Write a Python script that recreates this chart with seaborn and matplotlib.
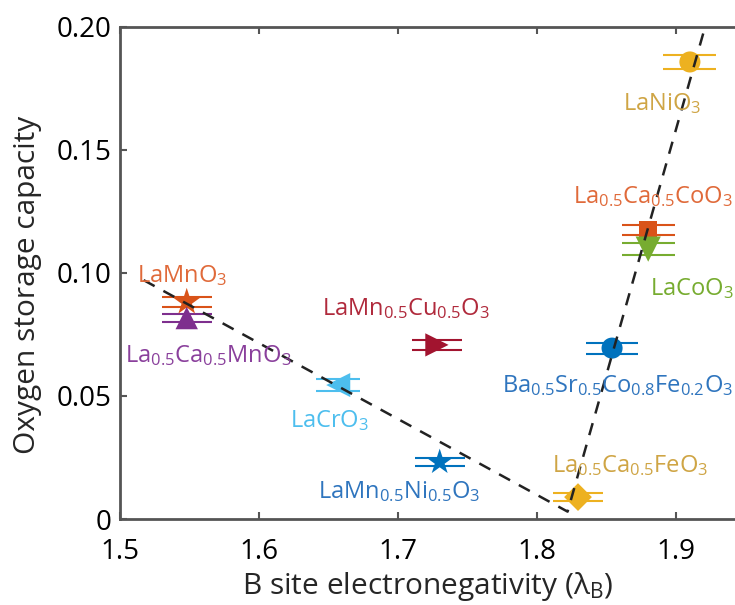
import matplotlib
matplotlib.use("Agg")
import matplotlib.pyplot as plt
import matplotlib.patheffects as pe
import pandas as pd
import seaborn as sns

# data
names = ["LaMnO3", "La0.5Ca0.5MnO3", "LaCrO3", "LaMn0.5Cu0.5O3", "LaMn0.5Ni0.5O3",
         "La0.5Ca0.5FeO3", "Ba0.5Sr0.5Co0.8Fe0.2O3", "La0.5Ca0.5CoO3", "LaCoO3", "LaNiO3"]
labels = [r"LaMnO$_3$", r"La$_{0.5}$Ca$_{0.5}$MnO$_3$", r"LaCrO$_3$",
          r"LaMn$_{0.5}$Cu$_{0.5}$O$_3$", r"LaMn$_{0.5}$Ni$_{0.5}$O$_3$",
          r"La$_{0.5}$Ca$_{0.5}$FeO$_3$", r"Ba$_{0.5}$Sr$_{0.5}$Co$_{0.8}$Fe$_{0.2}$O$_3$",
          r"La$_{0.5}$Ca$_{0.5}$CoO$_3$", r"LaCoO$_3$", r"LaNiO$_3$"]
electroneg = [1.548, 1.548, 1.657, 1.728, 1.730, 1.8295, 1.854, 1.880, 1.880, 1.910]
osc = [0.0881, 0.0816, 0.0544, 0.0707, 0.0231, 0.0089, 0.0694, 0.1174, 0.1096, 0.1856]
xerr = [0.018, 0.018, 0.016, 0.018, 0.018, 0.018, 0.019, 0.019, 0.019, 0.019]

# dashed guide line (V shape)
guide_x = [1.517, 1.822, 1.921]
guide_y = [0.097, 0.003, 0.200]

xticks = [1.5, 1.6, 1.7, 1.8, 1.9]
xticklabels = ["1.5", "1.6", "1.7", "1.8", "1.9"]
yticks = [0, 0.05, 0.10, 0.15, 0.20]
yticklabels = ["0", "0.05", "0.10", "0.15", "0.20"]

# styles
colors = {"LaMnO3": "#D95319", "La0.5Ca0.5MnO3": "#7E2F8E", "LaCrO3": "#4DBEEE",
          "LaMn0.5Cu0.5O3": "#A2142F", "LaMn0.5Ni0.5O3": "#0072BD",
          "La0.5Ca0.5FeO3": "#EDB120", "Ba0.5Sr0.5Co0.8Fe0.2O3": "#0072BD",
          "La0.5Ca0.5CoO3": "#D95319", "LaCoO3": "#77AC30", "LaNiO3": "#EDB120"}
text_colors = dict(colors)
text_colors.update({"LaMnO3": "#E06A3A", "La0.5Ca0.5CoO3": "#E06A3A",
                    "La0.5Ca0.5FeO3": "#CFA545", "LaNiO3": "#CFA545",
                    "LaMn0.5Cu0.5O3": "#B02A3C", "LaMn0.5Ni0.5O3": "#2F75BE",
                    "Ba0.5Sr0.5Co0.8Fe0.2O3": "#2F75BE", "La0.5Ca0.5MnO3": "#8A409C"})
markers = {"LaMnO3": "*", "La0.5Ca0.5MnO3": "^", "LaCrO3": "<", "LaMn0.5Cu0.5O3": ">",
           "LaMn0.5Ni0.5O3": "*", "La0.5Ca0.5FeO3": "D", "Ba0.5Sr0.5Co0.8Fe0.2O3": "o",
           "La0.5Ca0.5CoO3": "s", "LaCoO3": "v", "LaNiO3": "o"}
msizes = {"LaMnO3": 420, "La0.5Ca0.5MnO3": 260, "LaCrO3": 300, "LaMn0.5Cu0.5O3": 280,
          "LaMn0.5Ni0.5O3": 380, "La0.5Ca0.5FeO3": 200, "Ba0.5Sr0.5Co0.8Fe0.2O3": 230,
          "La0.5Ca0.5CoO3": 170, "LaCoO3": 330, "LaNiO3": 230}
# half gap (points) between the two lines of each error bar
bar_gap = {"LaMnO3": 3.5, "La0.5Ca0.5MnO3": 3.0, "LaCrO3": 4.5, "LaMn0.5Cu0.5O3": 3.5,
           "LaMn0.5Ni0.5O3": 3.0, "La0.5Ca0.5FeO3": 3.0, "Ba0.5Sr0.5Co0.8Fe0.2O3": 4.0,
           "La0.5Ca0.5CoO3": 3.5, "LaCoO3": 4.5, "LaNiO3": 5.0}
# label offsets in pixels from the marker
offsets = {"LaMnO3": (-50, 20), "La0.5Ca0.5MnO3": (-62, -44), "LaCrO3": (-48, -42),
           "LaMn0.5Cu0.5O3": (-115, 30), "LaMn0.5Ni0.5O3": (-122, -36),
           "La0.5Ca0.5FeO3": (-26, 25), "Ba0.5Sr0.5Co0.8Fe0.2O3": (-110, -44),
           "La0.5Ca0.5CoO3": (-75, 27), "LaCoO3": (2, -46), "LaNiO3": (-67, -48)}

df = pd.DataFrame({"name": names, "label": labels, "x": electroneg, "y": osc, "xerr": xerr})

sns.set_style("ticks")
plt.rcParams["font.family"] = ["Open Sans", "DejaVu Sans"]
plt.rcParams["mathtext.fontset"] = "custom"
plt.rcParams["mathtext.rm"] = "Open Sans"
plt.rcParams["mathtext.it"] = "Open Sans:italic"
plt.rcParams["mathtext.bf"] = "Open Sans:bold"

fig = plt.figure(figsize=(7.35, 6.05), dpi=100)
ax = fig.add_axes([120 / 735, 86 / 605, 695 / 735, 492.5 / 605])

# error bars drawn as two parallel thin lines
for _, r in df.iterrows():
    c = colors[r["name"]]
    g = bar_gap[r["name"]]
    ax.plot([r["x"] - r["xerr"], r["x"] + r["xerr"]], [r["y"], r["y"]], color=c, lw=1.5,
            solid_capstyle="butt", zorder=2,
            path_effects=[pe.Stroke(offset=(0, g), linewidth=1.5, foreground=c),
                          pe.Stroke(offset=(0, -g), linewidth=1.5, foreground=c)])

sns.scatterplot(data=df, x="x", y="y", hue="name", style="name", size="name",
                palette=colors, markers=markers, sizes=msizes, linewidth=0,
                legend=False, ax=ax, zorder=3)

sns.lineplot(x=guide_x, y=guide_y, color="#222222", lw=1.8, ax=ax, zorder=4,
             sort=False)
ax.lines[-1].set_dashes([5, 4])

for _, r in df.iterrows():
    ax.annotate(r["label"], (r["x"], r["y"]), xytext=offsets[r["name"]],
                textcoords="offset pixels", ha="left", va="baseline",
                fontsize=17, color=text_colors[r["name"]], zorder=5,
                annotation_clip=False)

ax.set_xlim(1.5, 2.0)
ax.set_ylim(0, 0.2)
ax.set_xticks(xticks)
ax.set_xticklabels(xticklabels)
ax.set_yticks(yticks)
ax.set_yticklabels(yticklabels)
ax.tick_params(direction="in", length=5, width=1.5, colors="#555555", labelcolor="black",
               labelsize=20, top=True, right=False)
ax.tick_params(axis="x", pad=14)
ax.tick_params(axis="y", pad=6)
for s in ax.spines.values():
    s.set_color("#555555")
    s.set_linewidth(2)

ax.set_xlabel(r"B site electronegativity (λ$_\mathregular{B}$)", fontsize=21.5)
ax.set_ylabel("Oxygen storage capacity", fontsize=21.5)
ax.xaxis.set_label_coords(0.443, -0.103)
ax.yaxis.set_label_coords(-0.112, 0.475)

fig.savefig("out.png", dpi=100)
